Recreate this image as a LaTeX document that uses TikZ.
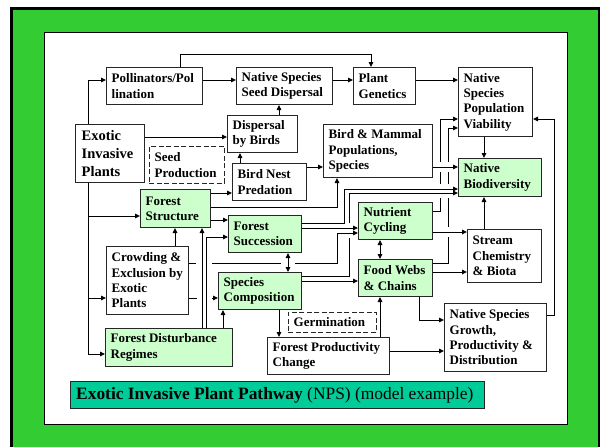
\documentclass[tikz,border=0pt]{standalone}
\usepackage{fontspec}
\setmainfont{Liberation Serif}
\usetikzlibrary{arrows.meta}
\definecolor{framegreen}{RGB}{51,204,51}
\definecolor{boxgreen}{RGB}{204,255,204}
\definecolor{titleteal}{RGB}{0,204,153}

% one box: style, name, left x, top y, width, height, text
\newcommand{\blk}[7]{%
  \node[#1, minimum width=#5pt, minimum height=#6pt] (#2) at (#3,#4) {};
  \node[lbl] at (#2.west) {#7};}

\begin{document}
\begin{tikzpicture}[x=1pt,y=-1pt,
  wbox/.style={draw=black!85, line width=1pt, fill=white, anchor=north west, inner sep=0pt},
  gbox/.style={wbox, fill=boxgreen},
  dbox/.style={wbox, dash pattern=on 5pt off 2.5pt, line width=0.9pt},
  tbox/.style={wbox, fill=titleteal},
  lbl/.style={anchor=west, align=left, inner xsep=5.5pt, inner ysep=0pt,
    font=\bfseries\fontsize{13}{15.3}\selectfont},
  arr/.style={draw=black, line width=0.9pt, -{Triangle[length=5pt,width=4.5pt]}},
  dbl/.style={draw=black, line width=0.9pt, {Triangle[length=5pt,width=4.5pt]}-{Triangle[length=5pt,width=4.5pt]}}]

\useasboundingbox (0,0) rectangle (600,447);
\fill[white] (0,0) rectangle (600,447);
\begin{scope}
  \clip (0,0) rectangle (600,447);
  \draw[line width=2.5pt, fill=framegreen] (11.5,8.5) rectangle (599,460);
\end{scope}
\draw[line width=1pt, fill=white] (44.5,32.5) rectangle (567,424);

% boxes
\blk{wbox}{poll}{106}{67}{96}{37}{Pollinators/Pol\\lination}
\blk{wbox}{nsd}{236}{67}{96}{37}{Native Species\\Seed Dispersal}
\blk{wbox}{pg}{353}{67}{62}{37}{Plant\\Genetics}
\blk{wbox}{nspv}{458}{67}{74}{69}{Native\\Species\\Population\\Viability}
\node[wbox, minimum width=69pt, minimum height=58pt] (eip) at (75,124) {};
\node[lbl, inner xsep=6.5pt, font=\bfseries\fontsize{14.5}{18}\selectfont] at (eip.west) {Exotic\\Invasive\\Plants};
\blk{wbox}{dbb}{227}{115}{70}{37}{Dispersal\\by Birds}
\blk{dbox}{sp}{149}{146}{75}{37}{Seed\\Production}
\blk{wbox}{bnp}{232}{163}{74}{37}{Bird Nest\\Predation}
\blk{wbox}{bmp}{323}{124}{109}{53}{Bird \& Mammal\\Populations,\\Species}
\blk{gbox}{nb}{458}{158}{83}{38}{Native\\Biodiversity}
\blk{gbox}{fs}{140}{189}{70}{38}{Forest\\Structure}
\blk{gbox}{fsu}{228}{215}{73}{37}{Forest\\Succession}
\blk{gbox}{nc}{358}{202}{74}{37}{Nutrient\\Cycling}
\blk{wbox}{sc}{467}{229}{74}{53}{Stream\\Chemistry\\\& Biota}
\blk{gbox}{fw}{358}{259}{74}{37}{Food Webs\\\& Chains}
\blk{wbox}{cr}{106}{246}{82}{68}{Crowding \&\\Exclusion by\\Exotic\\Plants}
\blk{gbox}{spc}{218}{272}{83}{37}{Species\\Composition}
\blk{gbox}{fdr}{105}{328}{127}{38}{Forest Disturbance\\Regimes}
\blk{dbox}{germ}{288}{312}{88}{20}{Germination}
\blk{wbox}{fpc}{267}{337}{122}{37}{Forest Productivity\\Change}
\blk{wbox}{nsg}{444}{303}{102}{68}{Native Species\\Growth,\\Productivity \&\\Distribution}
\node[tbox, minimum width=414pt, minimum height=27pt] (title) at (70,381) {};
\node[lbl, inner xsep=6pt, font=\fontsize{17.4}{20}\selectfont] at (title.west)
  {\textbf{Exotic Invasive Plant Pathway} (NPS) (model example)};

% connectors
\draw[arr] (eip.north -| 88,0) |- (poll.west |- 0,80);
\draw[arr] (poll.north -| 180,0) |- (371,54) -- (pg.north -| 371,0);
\draw[arr] (poll.east |- 0,80) -- (nsd.west |- 0,80);
\draw[arr] (nsd.east |- 0,80) -- (pg.west |- 0,80);
\draw[arr] (pg.east |- 0,80) -- (nspv.west |- 0,80);
\draw[arr] (eip.east |- 0,137) -- (dbb.west |- 0,137);
\draw[arr] (dbb.north -| 279,0) -- (nsd.south -| 279,0);
\draw[arr] (bnp.north -| 240,0) -- (dbb.south -| 240,0);
\draw[arr] (bnp.east |- 0,167) -- (bmp.west |- 0,167);
\draw[arr] (bmp.east |- 0,167) -- (nb.west |- 0,167);
\draw[arr] (fs.east |- 0,193) -- (bnp.west |- 0,193);
\draw[arr] (fs.east |- 0,207) -| (bmp.south -| 337,0);
\draw[arr] (fs.east |- 0,220) -- (fsu.west |- 0,220);
\draw[arr] (eip.south -| 88,0) |- (fdr.west |- 0,354);
\draw[arr] (eip.south -| 88,0) |- (fs.west |- 0,216);
\draw[arr] (eip.south -| 88,0) |- (cr.west |- 0,298);
\draw[arr] (cr.north -| 175,0) -- (fs.south -| 175,0);
\draw[arr] (fdr.north -| 202,0) -- (fs.south -| 202,0);
\draw[arr] (fdr.north -| 206,0) |- (fsu.west |- 0,237);
\draw[arr] (fdr.north -| 223,0) -- (spc.south -| 223,0);
\draw[arr] (cr.east |- 0,298) -- (197,298) (212,298) -- (spc.west |- 0,298);
\draw[arr] (cr.east |- 0,263) -- (196,263) (212,263) -- (281,263) (295,263) -| (337,233) -- (nc.west |- 0,233);
\draw[dbl] (fsu.south -| 288,0) -- (spc.north -| 288,0);
\draw[arr] (fsu.east |- 0,228) -- (nc.west |- 0,228);
\draw[arr] (fsu.east |- 0,223) -| (344,189) -- (nb.west |- 0,189);
\draw[arr] (spc.east |- 0,276) -| (349,238) (349,223) -- (349,193) -- (nb.west |- 0,193);
\draw[arr] (spc.east |- 0,281) -- (fw.west |- 0,281);
\draw[dbl] (nc.south -| 380,0) -- (fw.north -| 380,0);
\draw[arr] (nc.east |- 0,232) -- (sc.west |- 0,232);
\draw[arr] (fw.east |- 0,272) -- (sc.west |- 0,272);
\draw[arr] (sc.north -| 484,0) -- (nb.south -| 484,0);
\draw[arr] (nspv.south -| 484,0) -- (nb.north -| 484,0);
\draw[arr] (nc.east |- 0,211) -| (440,198) (440,184) -- (440,172) (440,162) -- (440,119) -- (nspv.west |- 0,119);
\draw[arr] (fw.east |- 0,263) -| (448,237) (448,227) -- (448,198) (448,184) -- (448,172) (448,162) -- (448,128) -- (nspv.west |- 0,128);
\draw[arr] (nsg.east |- 0,315) -| (554,119) -- (nspv.east |- 0,119);
\draw[arr] (fw.south -| 419,0) |- (nsg.west |- 0,320);
\draw[arr] (fpc.east |- 0,351) -- (nsg.west |- 0,351);
\draw[arr] (fpc.north -| 380,0) -- (fw.south -| 380,0);
\draw[arr] (spc.south -| 279,0) -- (fpc.north -| 279,0);
\end{tikzpicture}
\end{document}
